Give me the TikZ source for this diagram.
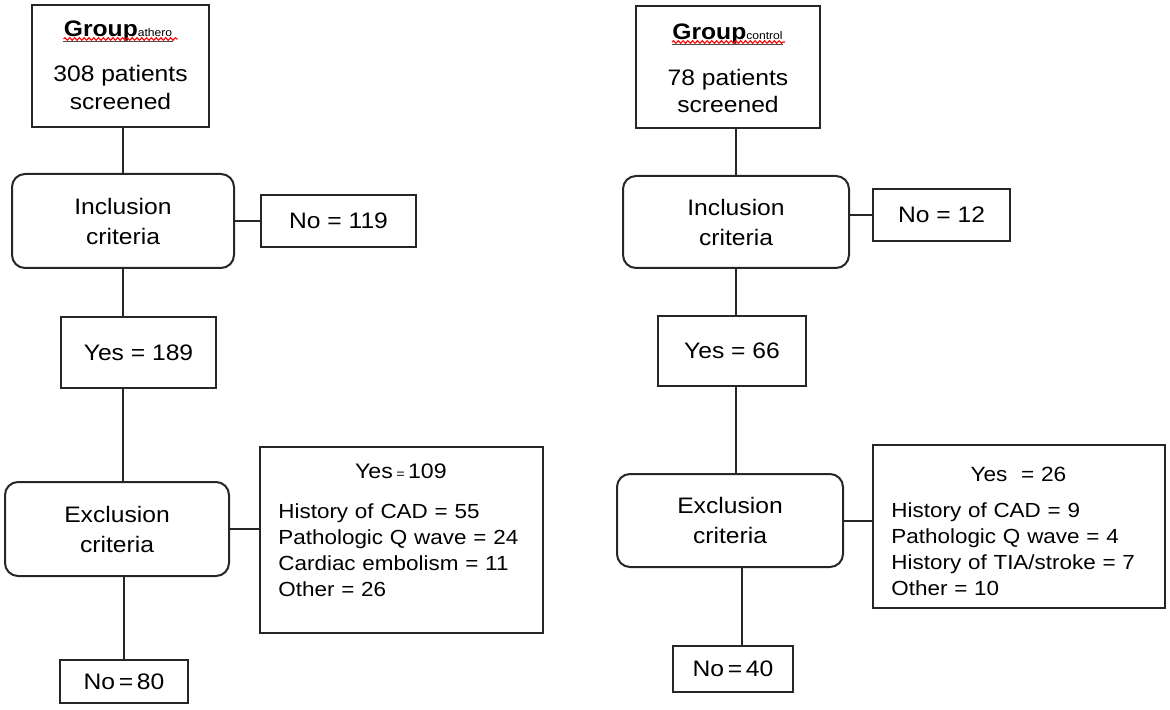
\documentclass[tikz,border=0pt]{standalone}
\usepackage{fontspec}
\setmainfont{Liberation Sans}[FakeStretch=1.1]
\usepackage{tikz}
\usetikzlibrary{decorations.pathmorphing}

\newcommand{\boxfont}{\fontsize{11.2}{15}\selectfont}
\newcommand{\listfont}{\fontsize{10.2}{13}\selectfont}
\newcommand{\subfont}{\fontsize{5.5}{6}\selectfont}

\tikzset{
	box/.style={draw=black!85, line width=1pt, inner sep=0pt, align=center, font=\boxfont},
	crit/.style={box, rounded corners=6.5pt},
	link/.style={draw=black!85, line width=1pt},
	listtext/.style={inner sep=0pt, anchor=north west, font=\listfont},
	title/.style={inner sep=0pt, anchor=base, font=\boxfont},
	wave/.style={red, line width=0.55pt, decorate, decoration={snake, amplitude=0.65pt, segment length=2.4pt}},
}

\begin{document}
\begin{tikzpicture}[x=0.5pt, y=-0.5pt]
				\useasboundingbox (0,0) rectangle (1170,710);
				% Group athero
				\node[box, minimum width=88.5pt, minimum height=61pt] (grpA) at (120.5,66) {};
				\node[title] (grpAt) at (118,37) {\textbf{Group}{\subfont athero}};
				\node[box, draw=none] (grpAn) at (120.5,88) {308 patients\\[-1pt]screened};
				\draw[black!70, line width=0.6pt] ([yshift=-2.2pt]grpAt.base west) -- ([yshift=-2.2pt]grpAt.base east);
				\draw[wave] ([yshift=-1pt]grpAt.base west) -- ([xshift=2.5pt,yshift=-1pt]grpAt.base east);
				\node[crit, minimum width=111pt, minimum height=47pt] (inclA) at (123,221) {Inclusion\\criteria};
				\node[box, minimum width=77.5pt, minimum height=26pt] (noA) at (338.5,221) {No = 119};
				\node[box, minimum width=77.5pt, minimum height=35.5pt] (yesA) at (138.5,352.5) {Yes = 189};
				\node[crit, minimum width=112pt, minimum height=47pt] (exclA) at (117,529) {Exclusion\\criteria};
				\node[box, minimum width=141.5pt, minimum height=93pt] (detA) at (401.5,540) {};
				\node[listtext, text width=122.5pt] (detAt) at ([xshift=9.5pt,yshift=-8.5pt]detA.north west)
					{{\centering\fontsize{10.5}{11}\selectfont Yes\,{\fontsize{6.5}{6}\selectfont =}\,109\par}\vspace{7pt}\raggedright
					History of CAD = 55\\Pathologic Q wave = 24\\Cardiac embolism = 11\\Other = 26};
				\node[box, minimum width=64pt, minimum height=21.5pt] (endA) at (124,681.5) {No\,=\,80};
				\draw[link] (grpA.south -| inclA.north) -- (inclA.north);
				\draw[link] (inclA.east) -- (inclA.east -| noA.west);
				\draw[link] (inclA.south) -- (inclA.south |- yesA.north);
				\draw[link] (yesA.south -| inclA.south) -- (exclA.north -| inclA.south);
				\draw[link] (exclA.east) -- (exclA.east -| detA.west);
				\draw[link] (exclA.south -| endA.north) -- (endA.north);
				% Group control
				\node[box, minimum width=92pt, minimum height=61pt] (grpC) at (728,67) {};
				\node[title] (grpCt) at (727.5,40) {\textbf{Group}{\subfont control}};
				\node[box, draw=none] (grpCn) at (728,90.5) {78 patients\\[-1.5pt]screened};
				\draw[black!70, line width=0.6pt] ([yshift=-2.2pt]grpCt.base west) -- ([yshift=-2.2pt]grpCt.base east);
				\draw[wave] ([yshift=-1pt]grpCt.base west) -- ([xshift=1pt,yshift=-1pt]grpCt.base east);
				\node[crit, minimum width=113pt, minimum height=46pt] (inclC) at (736,222) {Inclusion\\criteria};
				\node[box, minimum width=68.5pt, minimum height=26pt] (noC) at (941.5,215) {No = 12};
				\node[box, minimum width=74pt, minimum height=35pt] (yesC) at (732,351) {Yes = 66};
				\node[crit, minimum width=113pt, minimum height=46.5pt] (exclC) at (730,520.5) {Exclusion\\criteria};
				\node[box, minimum width=146pt, minimum height=81.5pt] (detC) at (1019,526.5) {};
				\node[listtext, text width=127pt] (detCt) at ([xshift=9.5pt,yshift=-11.5pt]detC.north west)
					{{\centering\fontsize{10.3}{11}\selectfont Yes\ \ = 26\par}\vspace{5pt}\raggedright
					History of CAD = 9\\Pathologic Q wave = 4\\History of TIA/stroke = 7\\Other = 10};
				\node[box, minimum width=60pt, minimum height=23pt] (endC) at (733,669) {No\,=\,40};
				\coordinate (endCtop) at ([xshift=4.5pt]endC.north);
				\draw[link] (grpC.south -| inclC.north) -- (inclC.north);
				\draw[link] (inclC.east |- noC.west) -- (noC.west);
				\draw[link] (inclC.south) -- (inclC.south |- yesC.north);
				\draw[link] (yesC.south -| inclC.south) -- (exclC.north -| inclC.south);
				\draw[link] (exclC.east) -- (exclC.east -| detC.west);
				\draw[link] (exclC.south -| endCtop) -- (endCtop);
			\end{tikzpicture}
\end{document}
